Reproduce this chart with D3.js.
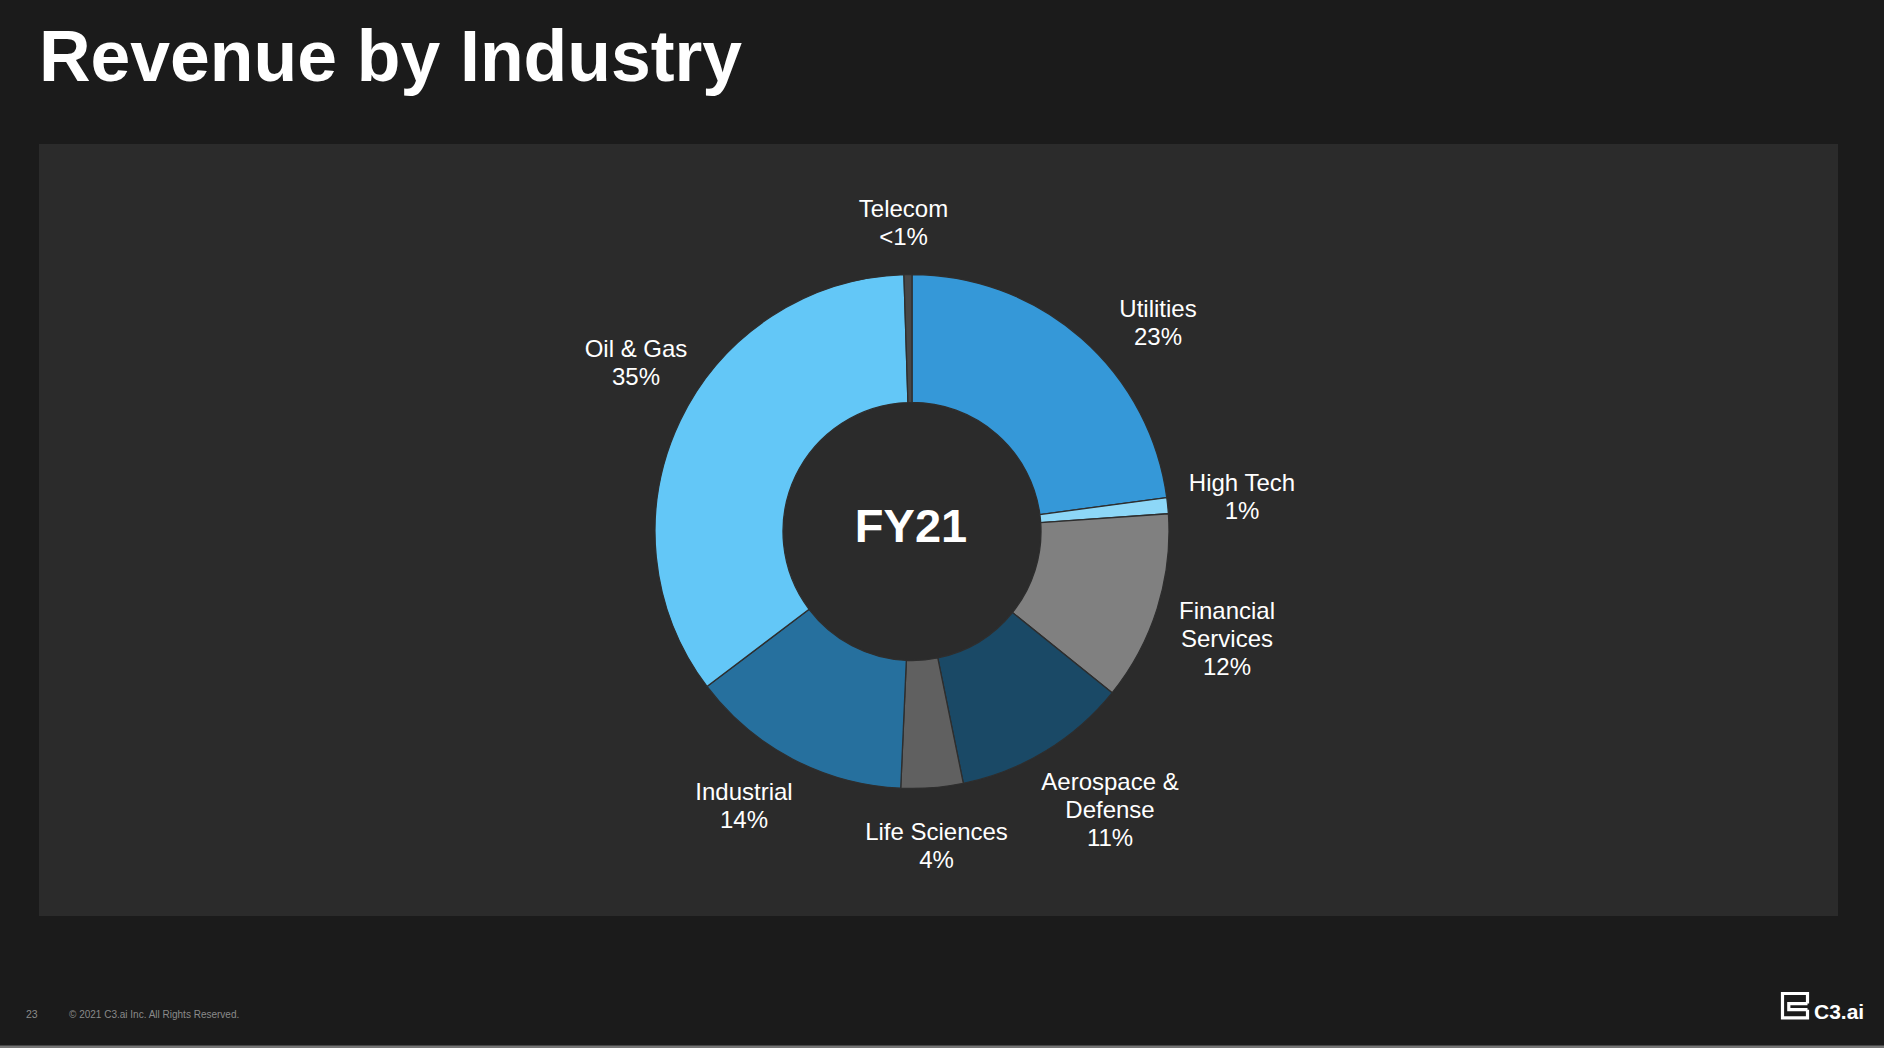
<!DOCTYPE html>
<html>
<head>
<meta charset="utf-8">
<script src="https://cdn.jsdelivr.net/npm/d3@7"></script>
<style>
  html, body { margin: 0; padding: 0; background: #1b1b1b; }
  svg { display: block; }
  text { font-family: "Liberation Sans", Arial, Helvetica, sans-serif; }
</style>
</head>
<body>
<svg id="chart" width="1884" height="1048"></svg>
<script>
// ---- data ----
const categories = ["Utilities", "High Tech", "Financial Services", "Aerospace & Defense",
                    "Life Sciences", "Industrial", "Oil & Gas", "Telecom"];
const shares = [22.9, 1.0, 11.9, 11.0, 3.9, 14.0, 34.8, 0.5];
const shareLabels = ["23%", "1%", "12%", "11%", "4%", "14%", "35%", "<1%"];
const labelLines = [["Utilities"], ["High Tech"], ["Financial", "Services"], ["Aerospace &", "Defense"],
                    ["Life Sciences"], ["Industrial"], ["Oil & Gas"], ["Telecom"]];
const centerLabel = "FY21";
const title = "Revenue by Industry";

// ---- style / layout ----
const sliceColors = ["#3598d8", "#8dd7f7", "#808080", "#1a4966", "#606060", "#26709e", "#63c7f7", "#474747"];
const cx = 912, cy = 531.5, outerR = 257, innerR = 129;
// label anchor offsets from donut centre (x centre, first baseline)
const labelOffsets = [[246, -214.5], [330, -41], [315, 87], [198, 258.5],
                      [24.5, 308.5], [-168, 268.5], [-276, -175], [-8.5, -315]];
const lineH = 28;

const svg = d3.select("#chart");
svg.append("rect").attr("width", 1884).attr("height", 1048).attr("fill", "#1b1b1b");
svg.append("rect").attr("x", 39).attr("y", 144).attr("width", 1799).attr("height", 772).attr("fill", "#2b2b2b");
svg.append("rect").attr("x", 0).attr("y", 1045.5).attr("width", 1884).attr("height", 2.5).attr("fill", "#757575");

svg.append("text").attr("x", 39).attr("y", 81)
  .attr("font-size", 73).attr("font-weight", "bold").attr("fill", "#ffffff")
  .attr("textLength", 703).attr("lengthAdjust", "spacingAndGlyphs")
  .text(title);

const data = categories.map((c, i) => ({ name: c, value: shares[i], label: shareLabels[i], lines: labelLines[i], i }));
const pie = d3.pie().sort(null).value(d => d.value).startAngle(0).endAngle(2 * Math.PI);
const arc = d3.arc().innerRadius(innerR).outerRadius(outerR);

const g = svg.append("g").attr("transform", `translate(${cx},${cy})`);
g.selectAll("path.slice").data(pie(data)).join("path")
  .attr("class", "slice")
  .attr("d", arc)
  .attr("fill", d => sliceColors[d.data.i])
  .attr("stroke", "#2e2e2e")
  .attr("stroke-width", 1.3)
  .attr("stroke-linejoin", "round");

g.append("text").attr("x", -1).attr("y", 10.5)
  .attr("text-anchor", "middle").attr("font-size", 47).attr("font-weight", "bold")
  .attr("fill", "#ffffff").text(centerLabel);

const lab = g.selectAll("g.lab").data(data).join("g").attr("class", "lab")
  .attr("transform", d => `translate(${labelOffsets[d.i][0]},${labelOffsets[d.i][1]})`);
lab.each(function(d) {
  const t = d3.select(this).append("text").attr("text-anchor", "middle")
    .attr("font-size", 24).attr("fill", "#ffffff");
  const lines = d.lines.concat([d.label]);
  lines.forEach((ln, k) => {
    t.append("tspan").attr("x", 0).attr("y", k * lineH).text(ln);
  });
});

// ---- footer ----
svg.append("text").attr("x", 26).attr("y", 1018.3).attr("font-size", 10.5).attr("fill", "#8a8a8a").text("23");
svg.append("text").attr("x", 69).attr("y", 1018.3).attr("font-size", 10).attr("fill", "#8a8a8a")
  .text("© 2021 C3.ai Inc. All Rights Reserved.");

// logo
const lx0 = 1782.5, lx1 = 1807.5, ly0 = 993.5, ly1 = 1017.8, ym1 = 1003.6, ym2 = 1009.7, xi = 1788.8;
const logo = svg.append("g").attr("fill", "none").attr("stroke", "#ffffff").attr("stroke-width", 3.2);
logo.append("path").attr("d", `M${lx1},${ym1} V${ly0} H${lx0} V${ly1} H${lx1} V${ym2}`);
logo.append("path").attr("d", `M${lx1},${ym1} H${xi} V${ym2} H${lx1}`);
svg.append("text").attr("x", 1814).attr("y", 1019.3).attr("font-size", 21).attr("font-weight", "bold")
  .attr("fill", "#ffffff").text("C3.ai");
</script>
</body>
</html>
